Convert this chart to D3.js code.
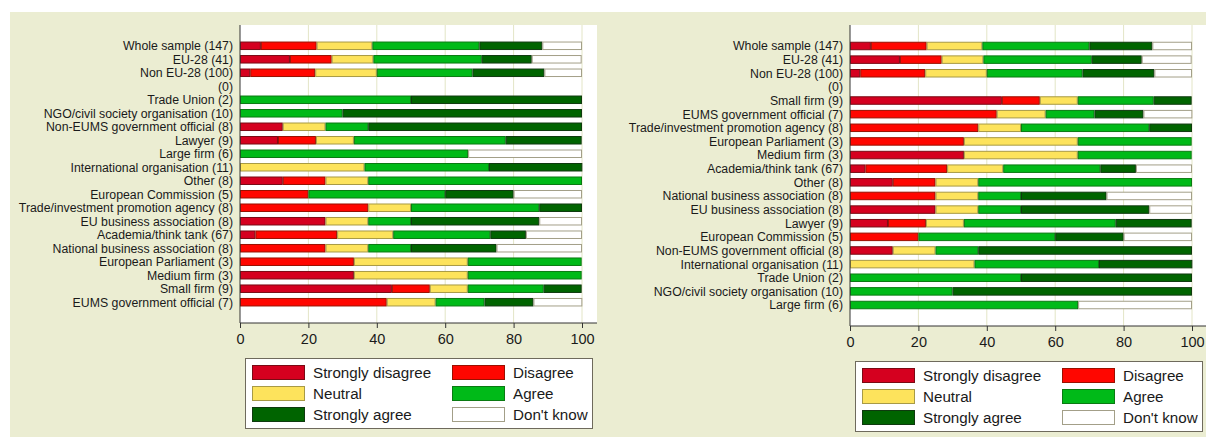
<!DOCTYPE html>
<html>
<head>
<meta charset="utf-8">
<title>Stacked bars</title>
<script src="https://d3js.org/d3.v7.min.js"></script>
<style>
    body { margin: 0; background: #fff; }
    svg { display: block; font-family: "Liberation Sans", Arial, Helvetica, sans-serif; }
</style>
</head>
<body>
<div id="chart"></div>
<script>
    // response levels and colours
    var levels = ["Strongly disagree", "Disagree", "Neutral", "Agree", "Strongly agree", "Don't know"];
    var fills = ["#d5001f", "#ff0600", "#fde35c", "#00ba18", "#006400", "#ffffff"];
    var strokes = ["#7a0a14", "#9a1000", "#a89a45", "#0a7a12", "#0f3a0f", "#a39f88"];

    // groups in the order of the left panel
    var groups = ["Whole sample (147)", "EU-28 (41)", "Non EU-28 (100)", "(0)",
        "Trade Union (2)", "NGO/civil society organisation (10)", "Non-EUMS government official (8)",
        "Lawyer (9)", "Large firm (6)", "International organisation (11)", "Other (8)",
        "European Commission (5)", "Trade/investment promotion agency (8)", "EU business association (8)",
        "Academia/think tank (67)", "National business association (8)", "European Parliament (3)",
        "Medium firm (3)", "Small firm (9)", "EUMS government official (7)"];

    // percentages per group
    var stronglyDisagree = [6.1, 14.6, 3, 0, 0, 0, 12.5, 11.1, 0, 0, 12.5, 0, 0, 25, 4.5, 0, 0, 33.3, 44.4, 0];
    var disagree = [16.3, 12.2, 19, 0, 0, 0, 0, 11.1, 0, 0, 12.5, 20, 37.5, 0, 23.9, 25, 33.3, 0, 11.1, 42.9];
    var neutral = [16.3, 12.2, 18, 0, 0, 0, 12.5, 11.1, 0, 36.4, 12.5, 0, 12.5, 12.5, 16.4, 12.5, 33.3, 33.3, 11.1, 14.3];
    var agree = [31.3, 31.7, 28, 0, 50, 30, 12.5, 44.4, 66.7, 36.4, 62.5, 40, 37.5, 12.5, 28.4, 12.5, 33.3, 33.3, 22.2, 14.3];
    var stronglyAgree = [18.4, 14.6, 21, 0, 50, 70, 62.5, 22.2, 0, 27.3, 0, 20, 12.5, 37.5, 10.4, 25, 0, 0, 11.1, 14.3];
    var dontKnow = [11.6, 14.6, 11, 0, 0, 0, 0, 0, 33.3, 0, 0, 20, 0, 12.5, 16.4, 25, 0, 0, 0, 14.3];

    // order of the right panel
    var rightOrder = ["Whole sample (147)", "EU-28 (41)", "Non EU-28 (100)", "(0)",
        "Small firm (9)", "EUMS government official (7)", "Trade/investment promotion agency (8)",
        "European Parliament (3)", "Medium firm (3)", "Academia/think tank (67)", "Other (8)",
        "National business association (8)", "EU business association (8)", "Lawyer (9)",
        "European Commission (5)", "Non-EUMS government official (8)", "International organisation (11)",
        "Trade Union (2)", "NGO/civil society organisation (10)", "Large firm (6)"];

    var xTicks = [0, 20, 40, 60, 80, 100];

    var rows = groups.map(function (g, i) {
        return {
            group: g,
            "Strongly disagree": stronglyDisagree[i],
            "Disagree": disagree[i],
            "Neutral": neutral[i],
            "Agree": agree[i],
            "Strongly agree": stronglyAgree[i],
            "Don't know": dontKnow[i]
        };
    });
    var stacked = d3.stack().keys(levels)(rows);

    var width = 1206, height = 439;
    var svg = d3.select("#chart").append("svg").attr("width", width).attr("height", height);
    svg.append("rect").attr("width", width).attr("height", height).attr("fill", "#fff");
    svg.append("rect").attr("x", 10).attr("y", 12).attr("width", width - 10).attr("height", 425).attr("fill", "#ebedd2");

    function drawPanel(dx, order, bottom, legendY) {
        var g = svg.append("g").attr("transform", "translate(" + dx + ",0)");
        var top = 25, left = 240, right = 597;

        var x = d3.scaleLinear().domain([0, 100]).range([left, 582]);
        var y = d3.scalePoint().domain(order).range([top, bottom]).padding(1.54);
        var bh = 8.5;

        g.append("rect").attr("x", left).attr("y", top).attr("width", right - left).attr("height", bottom - top).attr("fill", "#fff");

        g.selectAll(".grid").data(xTicks.slice(1)).enter().append("line")
            .attr("x1", function (d) { return x(d); })
            .attr("x2", function (d) { return x(d); })
            .attr("y1", top).attr("y2", bottom)
            .attr("stroke", "#e3e5c6").attr("stroke-width", 1);

        g.selectAll(".layer").data(stacked).enter().append("g")
            .each(function (layer, li) {
                d3.select(this).selectAll("rect")
                    .data(layer.filter(function (d) { return d[1] - d[0] > 0; }))
                    .enter().append("rect")
                    .attr("x", function (d) { return x(d[0]) + 0.5; })
                    .attr("y", function (d) { return y(d.data.group) - bh / 2 + 0.5; })
                    .attr("width", function (d) { return x(d[1]) - x(d[0]) - 1; })
                    .attr("height", bh - 1)
                    .attr("fill", fills[li])
                    .attr("stroke", strokes[li])
                    .attr("stroke-width", 1);
            });

        var yAxis = g.append("g").attr("transform", "translate(" + left + ",0)")
            .call(d3.axisLeft(y).tickSize(0).tickPadding(7));
        yAxis.select(".domain").remove();
        yAxis.selectAll("text").attr("font-size", "12.3px").attr("fill", "#1a1a1a")
            .attr("font-family", "Liberation Sans, Arial, sans-serif");

        var xAxis = g.append("g").attr("transform", "translate(0," + bottom + ")")
            .call(d3.axisBottom(x).tickValues(xTicks).tickSize(5).tickPadding(6));
        xAxis.select(".domain").remove();
        xAxis.selectAll("line").attr("stroke", "#333");
        xAxis.selectAll("text").attr("font-size", "14.5px").attr("fill", "#1a1a1a")
            .attr("font-family", "Liberation Sans, Arial, sans-serif");

        g.append("line").attr("x1", left).attr("x2", left).attr("y1", top).attr("y2", bottom)
            .attr("stroke", "#333").attr("stroke-width", 1);
        g.append("line").attr("x1", left).attr("x2", right).attr("y1", bottom).attr("y2", bottom)
            .attr("stroke", "#333").attr("stroke-width", 1);

        // legend
        var lg = g.append("g").attr("transform", "translate(245," + legendY + ")");
        lg.append("rect").attr("x", 0.5).attr("y", 0.5).attr("width", 347).attr("height", 70)
            .attr("fill", "#fff").attr("stroke", "#6e6a5c").attr("stroke-width", 1);
        var item = lg.selectAll(".item").data(levels).enter().append("g")
            .attr("transform", function (d, i) {
                return "translate(" + (7 + (i % 2) * 200) + "," + (7 + Math.floor(i / 2) * 21) + ")";
            });
        item.append("rect").attr("x", 0.5).attr("y", 0.5).attr("width", 52).attr("height", 14)
            .attr("fill", function (d, i) { return fills[i]; })
            .attr("stroke", function (d, i) { return strokes[i]; });
        item.append("text").attr("x", 61).attr("y", 12.5)
            .attr("font-size", "15.2px").attr("fill", "#1a1a1a")
            .text(function (d) { return d; });
    }

    drawPanel(0, groups, 323, 358);
    drawPanel(610, rightOrder, 326, 361);
</script>
</body>
</html>
